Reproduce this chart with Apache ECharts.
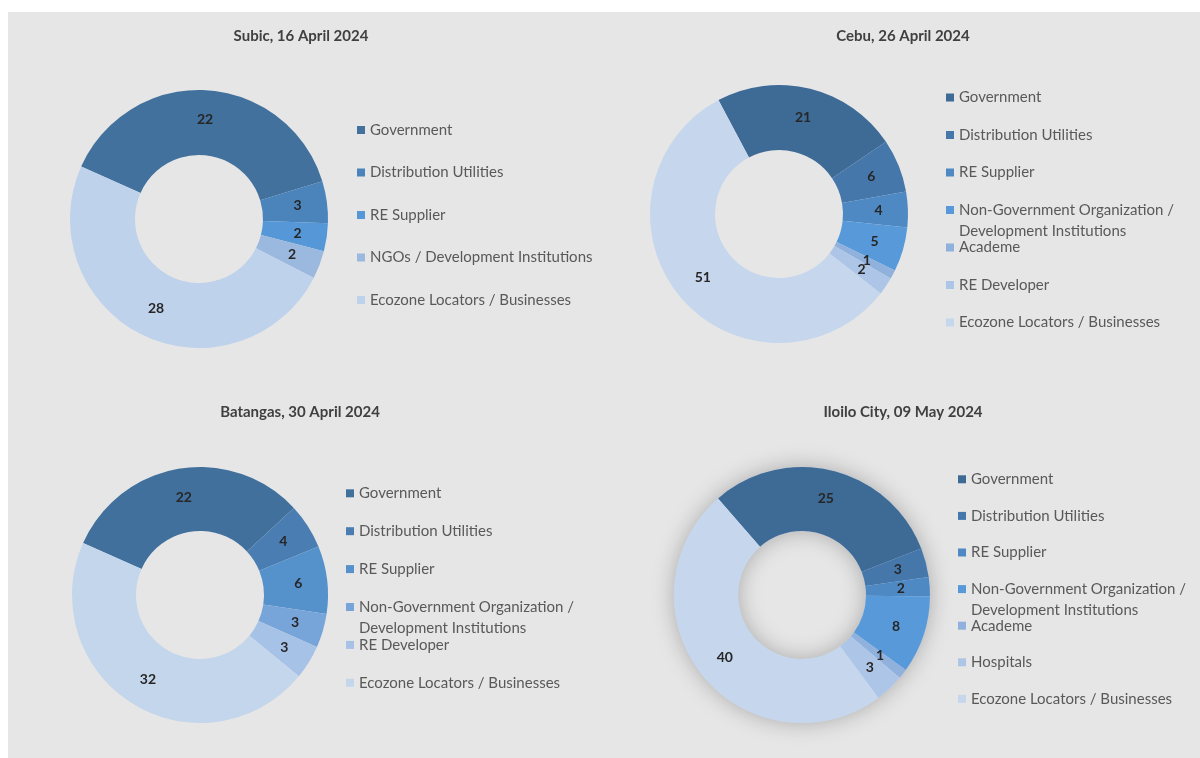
<!DOCTYPE html>
<html><head><meta charset="utf-8">
<script src="https://cdn.jsdelivr.net/npm/echarts@6/dist/echarts.min.js"></script>
<style>
html,body{margin:0;padding:0;background:#ffffff;width:1200px;height:758px;overflow:hidden;}
#bg{position:absolute;left:8px;top:12px;width:1192px;height:746px;background:#e6e6e6;}
.p{position:absolute;}
</style></head><body>
<div id="bg"></div>
<div id="c1" class="p" style="left:0;top:0;width:600px;height:385px"></div>
<div id="c2" class="p" style="left:600px;top:0;width:600px;height:385px"></div>
<div id="c3" class="p" style="left:0;top:385px;width:600px;height:373px"></div>
<div id="c4" class="p" style="left:600px;top:385px;width:600px;height:373px"></div>
<script>
// ---- data ----
const subicTitle = 'Subic, 16 April 2024';
const subicCats = ['Government', 'Distribution Utilities', 'RE Supplier', 'NGOs / Development Institutions', 'Ecozone Locators / Businesses'];
const subicVals = [22, 3, 2, 2, 28];

const cebuTitle = 'Cebu, 26 April 2024';
const cebuCats = ['Government', 'Distribution Utilities', 'RE Supplier', 'Non-Government Organization / Development Institutions', 'Academe', 'RE Developer', 'Ecozone Locators / Businesses'];
const cebuVals = [21, 6, 4, 5, 1, 2, 51];

const batangasTitle = 'Batangas, 30 April 2024';
const batangasCats = ['Government', 'Distribution Utilities', 'RE Supplier', 'Non-Government Organization / Development Institutions', 'RE Developer', 'Ecozone Locators / Businesses'];
const batangasVals = [22, 4, 6, 3, 3, 32];

const iloiloTitle = 'Iloilo City, 09 May 2024';
const iloiloCats = ['Government', 'Distribution Utilities', 'RE Supplier', 'Non-Government Organization / Development Institutions', 'Academe', 'Hospitals', 'Ecozone Locators / Businesses'];
const iloiloVals = [25, 3, 2, 8, 1, 3, 40];

// ---- styles ----
const pal5 = ['#41719c', '#4a84bb', '#5597d7', '#9bb9df', '#bfd2eb'];
const pal6 = ['#41709c', '#4a7eb2', '#5591cb', '#78a5d9', '#a6c2e6', '#c4d6ec'];
const pal7 = ['#3e6a96', '#4677ab', '#4f89c3', '#5899d9', '#8fb1dc', '#adc5e6', '#c6d7ed'];
const FONT = 'Lato, "Open Sans", sans-serif';
const LH = 21;

function build(el, cfg) {
  const chart = echarts.init(document.getElementById(el), null, {renderer: 'canvas'});
  const data = cfg.cats.map((c, i) => ({name: c, value: cfg.vals[i], itemStyle: {color: cfg.colors[i]}}));
  const legends = cfg.cats.map((c, i) => {
    const yc = cfg.ly0 + i * cfg.lgap;
    const multi = c.length > 40;
    return {
      data: [c],
      orient: 'vertical',
      left: cfg.lx,
      top: multi ? yc - 1.5 * LH : yc - LH / 2,
      padding: 0,
      itemWidth: 8,
      itemHeight: 8,
      icon: 'rect',
      selectedMode: false,
      // long names wrap after the slash; a blank leading line keeps the icon on the first text line
      formatter: n => (n.length > 40 ? ' \n' + n.replace(' / ', ' /\n') : n),
      textStyle: {fontFamily: FONT, fontSize: 15, color: '#595959', lineHeight: LH}
    };
  });
  const series = [];
  if (cfg.shadow) {
    series.push({
      type: 'pie', silent: true, z: 1,
      center: cfg.center, radius: [cfg.r0, cfg.r],
      label: {show: false}, labelLine: {show: false},
      itemStyle: {color: '#c6d7ed', borderWidth: 0, shadowBlur: 22, shadowColor: 'rgba(0,0,0,0.26)'},
      data: [{value: 1, name: '__ring'}]
    });
  }
  series.push({
    type: 'pie', z: 2,
    center: cfg.center, radius: [cfg.r0, cfg.r],
    startAngle: cfg.start, clockwise: true,
    avoidLabelOverlap: false,
    labelLayout: {hideOverlap: false},
    minShowLabelAngle: 0,
    itemStyle: {borderWidth: 0},
    emphasis: {disabled: true},
    label: {
      show: true, position: 'inside', formatter: '{c}',
      fontFamily: FONT, fontSize: 14, fontWeight: 'bold', color: '#262626'
    },
    labelLine: {show: false},
    data: data
  });
  chart.setOption({
    animation: false,
    backgroundColor: 'transparent',
    graphic: [{
      type: 'text', x: cfg.tx, y: cfg.ty,
      style: {text: cfg.title, fill: '#404040', font: 'bold 15px ' + FONT, align: 'center', verticalAlign: 'middle'}
    }],
    legend: legends,
    series: series
  });
}

build('c1', {title: subicTitle, tx: 301, ty: 36, cats: subicCats, vals: subicVals, colors: pal5,
  center: [199, 219], r: 129, r0: 64, start: 156, lx: 357, ly0: 130, lgap: 42.5});
build('c2', {title: cebuTitle, tx: 303, ty: 36, cats: cebuCats, vals: cebuVals, colors: pal7,
  center: [179, 214], r: 129, r0: 64, start: 118, lx: 346, ly0: 97.5, lgap: 37.5});
build('c3', {title: batangasTitle, tx: 300, ty: 27, cats: batangasCats, vals: batangasVals, colors: pal6,
  center: [200, 210], r: 128, r0: 64, start: 156, lx: 346, ly0: 108.3, lgap: 37.9});
build('c4', {title: iloiloTitle, tx: 303, ty: 27, cats: iloiloCats, vals: iloiloVals, colors: pal7,
  center: [202, 210], r: 128, r0: 64, start: 131, lx: 358, ly0: 94.3, lgap: 36.6, shadow: true});
</script>
</body></html>
